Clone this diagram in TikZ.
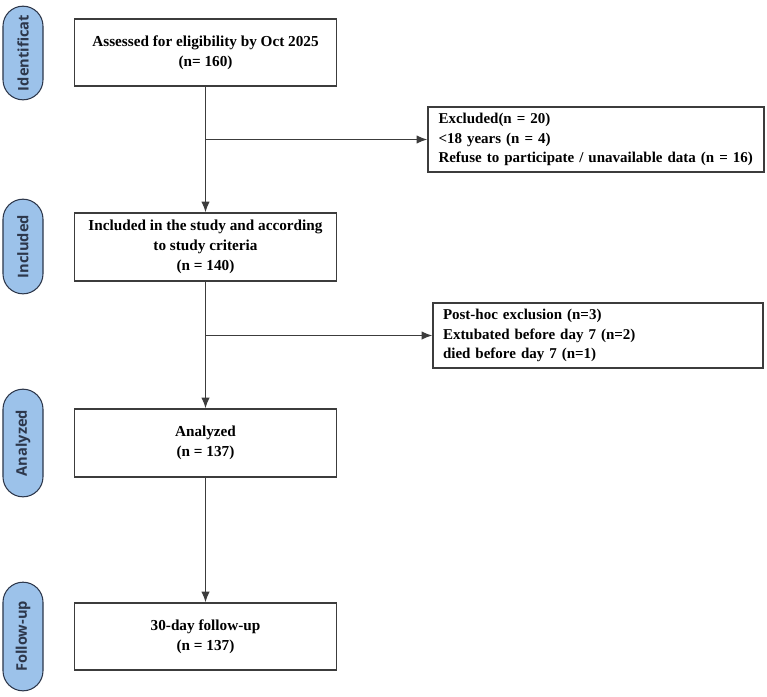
\documentclass[tikz,border=0pt]{standalone}
\usepackage{fontspec}
\setmainfont{Liberation Serif}
\newfontfamily\pillfont{Open Sans}
\usepackage{tikz}
\usetikzlibrary{arrows.meta,shapes.misc}

\definecolor{pillblue}{RGB}{156,194,234}
\definecolor{pillline}{RGB}{45,55,75}
\definecolor{boxline}{RGB}{60,60,60}

\begin{document}
\begin{tikzpicture}[x=0.03cm,y=-0.03cm,>={Latex[length=3.2mm,width=2.5mm]},
  stagebox/.style={draw=boxline,line width=1.1pt,fill=white,minimum width=7.86cm,minimum height=2.04cm,align=center,font=\fontsize{13}{16.8}\selectfont\bfseries,inner sep=2pt},
  exclbox/.style={draw=boxline,line width=1.1pt,fill=white,minimum height=1.95cm,align=left,font=\fontsize{12.8}{16.5}\selectfont\bfseries,inner sep=2pt},
  pill/.style={rounded rectangle,draw=pillline,line width=0.9pt,fill=pillblue,minimum height=1.2cm,inner sep=1pt,rotate=90,text=pillline,font=\pillfont\fontsize{12.5}{14}\selectfont\bfseries},
  flow/.style={draw=boxline,line width=1.1pt}]
\useasboundingbox (0,0) rectangle (767,696);
% stage labels
\node[pill,minimum width=2.88cm] (p01) at (23,53) {Identificat};
\node[pill,minimum width=2.91cm] (p02) at (23,246.5) {Included};
\node[pill,minimum width=3.3cm] (p03) at (23,443) {Analyzed};
\node[pill,minimum width=3.33cm] (p04) at (23,636.5) {Follow-up};
% main boxes
\node[stagebox,minimum height=2.01cm] (b01) at (205.5,52.5) {Assessed for eligibility by Oct 2025\\(n= 160)};
\node[stagebox] (b02) at (205.5,247) {Included in the study and according\\to study criteria\\(n = 140)};
\node[stagebox] (b03) at (205.5,443) {Analyzed\\(n = 137)};
\node[stagebox,minimum height=2.01cm] (b04) at (205.5,636.5) {30-day follow-up\\(n = 137)};
% exclusions
\node[exclbox,minimum width=10.08cm,text width=9.45cm] (e01) at (596,139.5) {Excluded(n = 20)\\\textless18 years (n = 4)\\Refuse to participate / unavailable data (n = 16)};
\node[exclbox,minimum width=9.9cm,text width=9.3cm] (e02) at (598,335.5) {Post-hoc exclusion (n=3)\\Extubated before day 7 (n=2)\\died before day 7 (n=1)};
\coordinate (j01) at (b01.south |- e01.west);
\coordinate (j02) at (b02.south |- e02.west);
\draw[flow,->] (b01.south)--(b02.north);
\draw[flow,->] (j01)--(e01.west);
\draw[flow,->] (b02.south)--(b03.north);
\draw[flow,->] (j02)--(e02.west);
\draw[flow,->] (b03.south)--(b04.north);
\end{tikzpicture}
\end{document}
